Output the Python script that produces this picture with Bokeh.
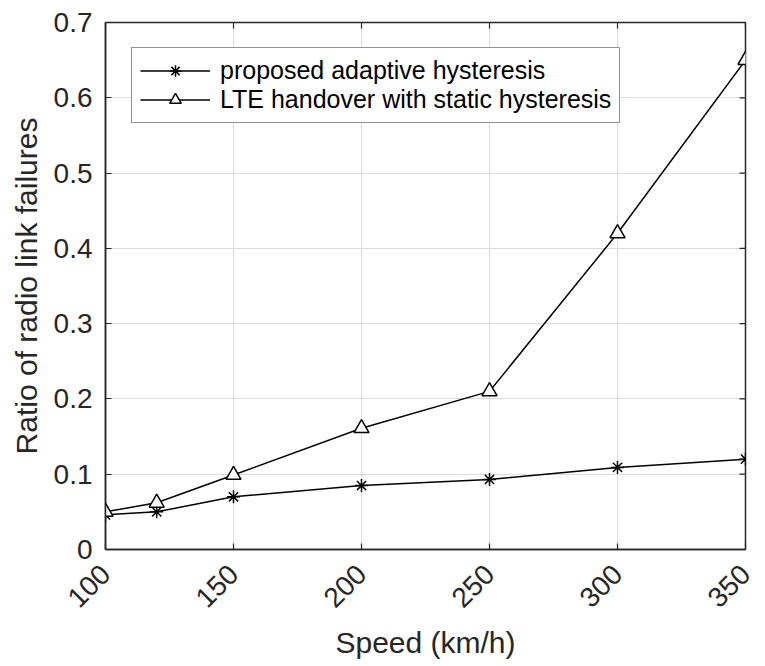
from bokeh.plotting import figure
from bokeh.models import (FixedTicker, Range1d, NumeralTickFormatter,
                          Legend, LegendItem)
from bokeh.embed import file_html
from bokeh.resources import INLINE
import math

# ---- data ----
speed = [100, 120, 150, 200, 250, 300, 350]
adaptive = [0.046, 0.050, 0.070, 0.085, 0.093, 0.109, 0.120]
static = [0.050, 0.062, 0.099, 0.161, 0.210, 0.420, 0.650]
x_ticks = [100, 150, 200, 250, 300, 350]
y_ticks = [0, 0.1, 0.2, 0.3, 0.4, 0.5, 0.6, 0.7]
series_names = ["proposed adaptive hysteresis", "LTE handover with static hysteresis"]
x_label = "Speed (km/h)"
y_label = "Ratio of radio link failures"

FONT = "Liberation Sans"
AX = "#262626"

x0, x1 = 100, 350
y0, y1 = 0, 0.7

p = figure(frame_width=640, frame_height=527,
           x_range=Range1d(x0, x1), y_range=Range1d(y0, y1),
           output_backend="svg", toolbar_location=None,
           min_border_left=105, min_border_right=18, min_border_top=22,
           min_border_bottom=115)
p.background_fill_color = "white"
p.border_fill_color = "white"
p.outline_line_color = AX
p.outline_line_width = 1.5

# axes
for ax in (p.xaxis[0], p.yaxis[0]):
    ax.axis_line_color = AX
    ax.axis_line_width = 1.5
    ax.major_tick_in = 6
    ax.major_tick_out = 0
    ax.major_tick_line_color = AX
    ax.major_tick_line_width = 1.2
    ax.minor_tick_line_color = None
    ax.major_label_text_font = FONT
    ax.major_label_text_font_size = "28px"
    ax.major_label_text_color = AX
    ax.axis_label_text_font = FONT
    ax.axis_label_text_font_size = "30px"
    ax.axis_label_text_font_style = "normal"
    ax.axis_label_text_color = AX

p.xaxis[0].ticker = FixedTicker(ticks=x_ticks)
p.yaxis[0].ticker = FixedTicker(ticks=y_ticks)
p.yaxis[0].formatter = NumeralTickFormatter(format="0.[0]")
p.xaxis[0].major_label_orientation = math.pi / 4
p.xaxis[0].major_label_standoff = 20
p.yaxis[0].major_label_standoff = 13
p.xaxis[0].axis_label = x_label
p.yaxis[0].axis_label = y_label
p.xaxis[0].axis_label_standoff = 7
p.yaxis[0].axis_label_standoff = 8

# grid
p.xgrid.ticker = FixedTicker(ticks=x_ticks)
p.ygrid.ticker = FixedTicker(ticks=y_ticks)
for g in (p.xgrid[0], p.ygrid[0]):
    g.grid_line_color = "#dcdcdc"
    g.grid_line_width = 1

# inner ticks on top and right edges of the box (half is clipped by the frame)
p.scatter(x_ticks, [y1] * len(x_ticks), marker="dash", angle=math.pi / 2, size=12,
          line_color=AX, line_width=1.2)
p.scatter([x1] * len(y_ticks), y_ticks, marker="dash", size=12,
          line_color=AX, line_width=1.2)

# series
l1 = p.line(speed, adaptive, line_color="black", line_width=1.5)
s1 = p.scatter(speed, adaptive, marker="asterisk", size=13, line_color="black", line_width=1.5)
l2 = p.line(speed, static, line_color="black", line_width=1.5)
s2 = p.scatter(speed, static, marker="triangle", size=15, line_color="black",
               fill_color="white", line_width=1.5)

legend = Legend(items=[LegendItem(label=series_names[0], renderers=[l1, s1]),
                       LegendItem(label=series_names[1], renderers=[l2, s2])],
                location=(26, 429))
legend.label_text_font = FONT
legend.label_text_font_size = "25px"
legend.label_text_color = "black"
legend.label_height = 29
legend.glyph_height = 29
legend.glyph_width = 70
legend.label_standoff = 10
legend.padding = 8
legend.spacing = 0
legend.margin = 0
legend.border_line_color = AX
legend.border_line_width = 1.5
legend.background_fill_color = "white"
legend.background_fill_alpha = 1
legend.location = (26, 426)
p.add_layout(legend, "center")

open("out.html", "w").write(file_html(p, INLINE))
